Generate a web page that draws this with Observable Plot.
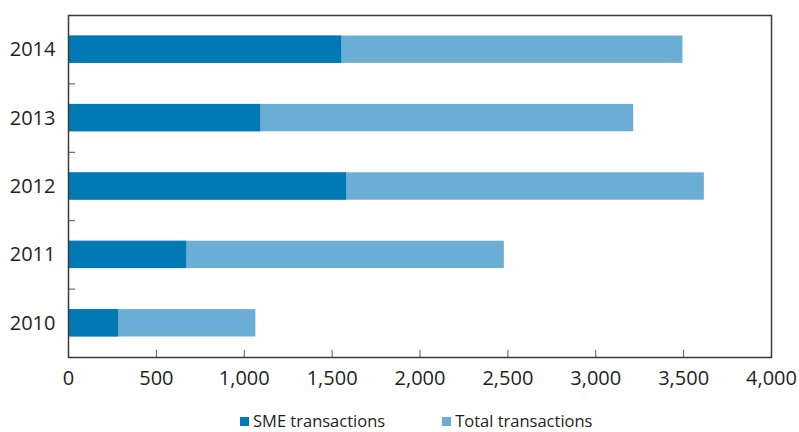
<!DOCTYPE html>
<html>
<head>
<meta charset="utf-8">
<script src="https://cdn.jsdelivr.net/npm/d3@7"></script>
<script src="https://cdn.jsdelivr.net/npm/@observablehq/plot@0.6"></script>
<style>
  body { margin: 0; background: #fff; font-family: "Open Sans", sans-serif; color: #231f20; }
  #chart svg { display: block; }
  .legend { display: flex; align-items: center; margin-top: 13px; padding-left: 240px; font-size: 16.5px; line-height: 16px; }
  .legend .item { display: flex; align-items: center; }
  .legend .item + .item { margin-left: 57px; }
  .legend .sw { width: 9px; height: 9px; margin-right: 4px; }
</style>
</head>
<body>
<div id="chart"></div>
<script>
// Transactions by year
const years = [2010, 2011, 2012, 2013, 2014];
const smeTransactions = [285, 672, 1582, 1093, 1554];
const totalTransactions = [1066, 2480, 3618, 3216, 3496];
const xTicks = [0, 500, 1000, 1500, 2000, 2500, 3000, 3500, 4000];

const seriesNames = ["SME transactions", "Total transactions"];
const seriesColors = ["#0079b5", "#6aaed6"];

const rows = years.map((year, i) => ({ year, sme: smeTransactions[i], total: totalTransactions[i] }));
// boundaries between consecutive year rows
const separators = years.slice(0, -1).map(y => y + 0.5);
const half = 0.2; // half of a bar's thickness, in year units

const plot = Plot.plot({
  width: 799,
  height: 400,
  marginLeft: 68,
  marginRight: 28,
  marginTop: 15,
  marginBottom: 43,
  style: { fontFamily: "Open Sans, sans-serif", fontSize: "20px", color: "#231f20" },
  x: { domain: [0, 4000] },
  y: { domain: [years[0] - 0.5, years[years.length - 1] + 0.5] },
  marks: [
    Plot.rectX(rows, { x1: 0, x2: "total", y1: d => d.year - half, y2: d => d.year + half, fill: seriesColors[1] }),
    Plot.rectX(rows, { x1: 0, x2: "sme", y1: d => d.year - half, y2: d => d.year + half, fill: seriesColors[0] }),
    Plot.axisX({ ticks: xTicks, tickSize: 0, tickPadding: 13, tickFormat: d3.format(","), label: null }),
    Plot.axisX({ ticks: xTicks, tickSize: -7, tickFormat: () => "", stroke: "#555", label: null }),
    Plot.axisY({ ticks: years, tickSize: 0, tickPadding: 13, tickFormat: d3.format("d"), label: null }),
    Plot.axisY({ ticks: separators, tickSize: -7, tickFormat: () => "", stroke: "#555", label: null }),
    Plot.frame({ stroke: "#3a3a3a", strokeWidth: 1.5 })
  ]
});
document.getElementById("chart").append(plot);

const legend = document.createElement("div");
legend.className = "legend";
seriesNames.forEach((name, i) => {
  const item = document.createElement("div");
  item.className = "item";
  const sw = document.createElement("span");
  sw.className = "sw";
  sw.style.background = seriesColors[i];
  const label = document.createElement("span");
  label.textContent = name;
  item.append(sw, label);
  legend.append(item);
});
document.getElementById("chart").append(legend);
</script>
</body>
</html>
